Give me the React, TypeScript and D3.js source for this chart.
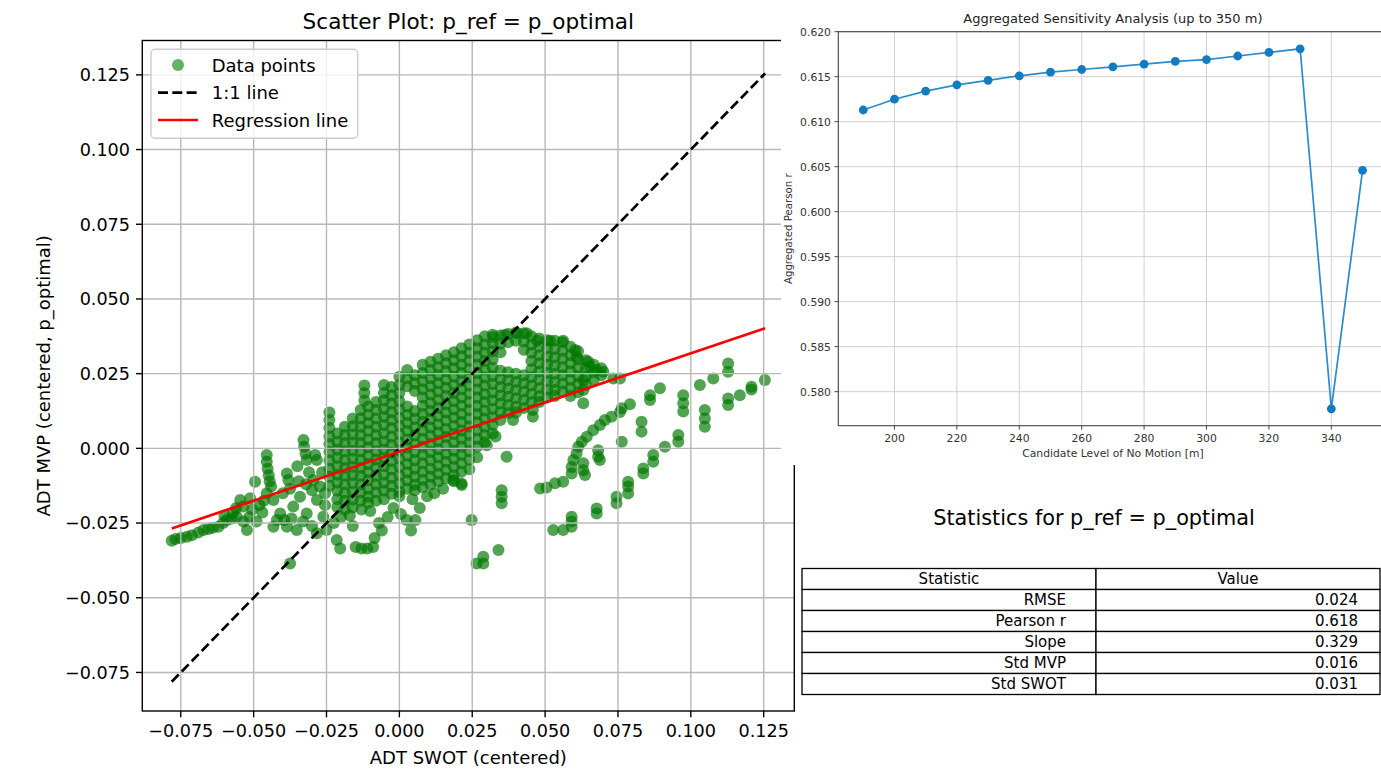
import React, { useEffect, useRef } from 'react';
import * as d3 from 'd3';

const W = 1381;
const H = 772;
const FONT = '"DejaVu Sans", Verdana, sans-serif';

// ---- right top panel: sensitivity analysis ----
const candidateLevels = [190, 200, 210, 220, 230, 240, 250, 260, 270, 280, 290, 300, 310, 320, 330, 340, 350];
const aggregatedPearson = [0.6113, 0.6125, 0.6134, 0.6141, 0.6146, 0.6151, 0.6155, 0.6158, 0.6161, 0.6164, 0.6167, 0.6169, 0.6173, 0.6177, 0.6181, 0.5781, 0.6046];
const levelTicks = [200, 220, 240, 260, 280, 300, 320, 340];
const pearsonTicks = [0.58, 0.585, 0.59, 0.595, 0.6, 0.605, 0.61, 0.615, 0.62];

// ---- statistics table ----
const statHeader = ['Statistic', 'Value'];
const statNames = ['RMSE', 'Pearson r', 'Slope', 'Std MVP', 'Std SWOT'];
const statValues = ['0.024', '0.618', '0.329', '0.016', '0.031'];

// ---- scatter ----
const swotTicks = [-0.075, -0.05, -0.025, 0, 0.025, 0.05, 0.075, 0.1, 0.125];
const mvpTicks = [-0.075, -0.05, -0.025, 0, 0.025, 0.05, 0.075, 0.1, 0.125];
const regSlope = 0.329;
const regIntercept = -0.0011;
const swotRange = [-0.0781, 0.1255];

// dense core of the cloud, read column by column: [swot, mvp values]
const denseColumns: [number, number[]][] = [
  [-0.0240, [0.0120, 0.0095, 0.0068, 0.0040, 0.0015, -0.0012, -0.0040, -0.0068, -0.0095, -0.0125]],
  [-0.0213, [0.0050, 0.0022, -0.0005, -0.0032, -0.0060, -0.0088, -0.0115, -0.0142, -0.0170, -0.0196]],
  [-0.0187, [0.0072, 0.0045, 0.0018, -0.0010, -0.0038, -0.0065, -0.0092, -0.0120, -0.0148, -0.0175, -0.0205]],
  [-0.0160, [0.0100, 0.0074, 0.0046, 0.0020, -0.0008, -0.0035, -0.0062, -0.0090, -0.0117, -0.0145, -0.0172, -0.0198]],
  [-0.0133, [0.0128, 0.0100, 0.0072, 0.0045, 0.0018, -0.0010, -0.0038, -0.0065, -0.0092, -0.0120, -0.0147, -0.0175]],
  [-0.0120, [0.0210, 0.0185, 0.0160]],
  [-0.0107, [0.0140, 0.0112, 0.0085, 0.0058, 0.0030, 0.0003, -0.0025, -0.0052, -0.0080, -0.0107, -0.0135, -0.0162, -0.0182]],
  [-0.0080, [0.0155, 0.0128, 0.0100, 0.0072, 0.0045, 0.0018, -0.0010, -0.0037, -0.0064, -0.0092, -0.0120, -0.0147, -0.0175]],
  [-0.0053, [0.0212, 0.0185, 0.0160, 0.0132, 0.0105, 0.0078, 0.0050, 0.0022, -0.0005, -0.0032, -0.0060, -0.0088, -0.0115, -0.0142, -0.0170]],
  [-0.0027, [0.0205, 0.0178, 0.0150, 0.0122, 0.0095, 0.0068, 0.0040, 0.0012, -0.0015, -0.0042, -0.0070, -0.0098, -0.0125, -0.0152]],
  [0.0000, [0.0240, 0.0212, 0.0185, 0.0158, 0.0130, 0.0102, 0.0075, 0.0048, 0.0020, -0.0008, -0.0035, -0.0062, -0.0090, -0.0117, -0.0145, -0.0160]],
  [0.0027, [0.0262, 0.0235, 0.0208, 0.0140, 0.0112, 0.0085, 0.0058, 0.0030, 0.0003, -0.0025, -0.0052, -0.0080, -0.0107, -0.0135]],
  [0.0053, [0.0245, 0.0218, 0.0192, 0.0125, 0.0098, 0.0070, 0.0043, 0.0015, -0.0012, -0.0040, -0.0068, -0.0095, -0.0122, -0.0140]],
  [0.0080, [0.0280, 0.0252, 0.0225, 0.0198, 0.0170, 0.0143, 0.0115, 0.0088, 0.0060, 0.0032, 0.0005, -0.0022, -0.0050, -0.0078, -0.0105, -0.0130]],
  [0.0107, [0.0290, 0.0262, 0.0235, 0.0208, 0.0180, 0.0152, 0.0125, 0.0098, 0.0070, 0.0042, 0.0015, -0.0012, -0.0040, -0.0068, -0.0095, -0.0122]],
  [0.0133, [0.0300, 0.0272, 0.0245, 0.0218, 0.0190, 0.0163, 0.0135, 0.0108, 0.0080, 0.0053, 0.0025, -0.0003, -0.0030, -0.0058, -0.0085, -0.0112]],
  [0.0160, [0.0312, 0.0285, 0.0258, 0.0230, 0.0203, 0.0175, 0.0148, 0.0120, 0.0093, 0.0065, 0.0038, 0.0010, -0.0018, -0.0045, -0.0072, -0.0100]],
  [0.0187, [0.0322, 0.0295, 0.0268, 0.0240, 0.0212, 0.0185, 0.0158, 0.0130, 0.0103, 0.0075, 0.0048, 0.0020, -0.0008, -0.0035, -0.0062, -0.0090, -0.0110]],
  [0.0213, [0.0335, 0.0308, 0.0280, 0.0252, 0.0225, 0.0198, 0.0170, 0.0143, 0.0115, 0.0088, 0.0060, 0.0033, 0.0005, -0.0022, -0.0050, -0.0078, -0.0118]],
  [0.0240, [0.0348, 0.0320, 0.0293, 0.0265, 0.0238, 0.0210, 0.0183, 0.0155, 0.0128, 0.0100, 0.0073, 0.0045, 0.0018, -0.0010, -0.0038, -0.0070]],
  [0.0267, [0.0362, 0.0335, 0.0307, 0.0280, 0.0252, 0.0225, 0.0197, 0.0170, 0.0142, 0.0115, 0.0087, 0.0060, 0.0032, 0.0005, -0.0030]],
  [0.0293, [0.0375, 0.0348, 0.0320, 0.0292, 0.0265, 0.0237, 0.0210, 0.0182, 0.0155, 0.0127, 0.0100, 0.0072, 0.0045, 0.0020]],
  [0.0320, [0.0380, 0.0352, 0.0325, 0.0297, 0.0270, 0.0242, 0.0215, 0.0187, 0.0160, 0.0132, 0.0105, 0.0078, 0.0050]],
  [0.0347, [0.0378, 0.0350, 0.0322, 0.0260, 0.0232, 0.0205, 0.0177, 0.0150, 0.0122, 0.0095]],
  [0.0373, [0.0383, 0.0355, 0.0255, 0.0228, 0.0200, 0.0173, 0.0145, 0.0118]],
  [0.0400, [0.0388, 0.0360, 0.0250, 0.0222, 0.0195, 0.0168, 0.0140, 0.0120]],
  [0.0427, [0.0385, 0.0358, 0.0330, 0.0245, 0.0218, 0.0190, 0.0163, 0.0135]],
  [0.0453, [0.0375, 0.0347, 0.0320, 0.0292, 0.0265, 0.0238, 0.0210, 0.0183, 0.0155]],
  [0.0480, [0.0368, 0.0340, 0.0312, 0.0285, 0.0257, 0.0230, 0.0202, 0.0175, 0.0155]],
  [0.0507, [0.0362, 0.0335, 0.0307, 0.0280, 0.0252, 0.0225, 0.0197, 0.0170]],
  [0.0533, [0.0360, 0.0332, 0.0305, 0.0277, 0.0250, 0.0222, 0.0195, 0.0175]],
  [0.0560, [0.0355, 0.0327, 0.0300, 0.0272, 0.0245, 0.0217, 0.0190]],
  [0.0587, [0.0340, 0.0312, 0.0285, 0.0257, 0.0230, 0.0202, 0.0175]],
  [0.0613, [0.0325, 0.0297, 0.0270, 0.0242, 0.0215, 0.0188]],
  [0.0640, [0.0295, 0.0268, 0.0240, 0.0212]],
  [0.0667, [0.0280, 0.0255, 0.0230]],
  [0.0693, [0.0268, 0.0245]],
];

// sparser points around the core: [swot, mvp]
const outerPoints: [number, number][] = [
  // lower-left tail
  [-0.0781, -0.0309], [-0.0768, -0.0303], [-0.0750, -0.0300], [-0.0729, -0.0296], [-0.0712, -0.0291],
  [-0.0690, -0.0282], [-0.0672, -0.0273], [-0.0655, -0.0270], [-0.0640, -0.0266], [-0.0621, -0.0262],
  [-0.0605, -0.0250], [-0.0600, -0.0225], [-0.0592, -0.0240], [-0.0575, -0.0235], [-0.0570, -0.0215],
  [-0.0560, -0.0200], [-0.0558, -0.0229], [-0.0546, -0.0173], [-0.0536, -0.0195], [-0.0535, -0.0245],
  [-0.0523, -0.0273], [-0.0515, -0.0230], [-0.0512, -0.0167], [-0.0505, -0.0205], [-0.0495, -0.0112],
  [-0.0490, -0.0245], [-0.0480, -0.0190], [-0.0470, -0.0215], [-0.0465, -0.0175], [-0.0455, -0.0150],
  [-0.0455, -0.0022], [-0.0455, -0.0045], [-0.0452, -0.0068], [-0.0448, -0.0090], [-0.0445, -0.0110],
  [-0.0440, -0.0128],
  // left middle
  [-0.0432, -0.0173], [-0.0409, -0.0218], [-0.0432, -0.0262], [-0.0420, -0.0240], [-0.0400, -0.0150],
  [-0.0395, -0.0240], [-0.0386, -0.0262], [-0.0386, -0.0084], [-0.0381, -0.0106], [-0.0375, -0.0135],
  [-0.0370, -0.0235], [-0.0364, -0.0195], [-0.0352, -0.0273], [-0.0350, -0.0060], [-0.0345, -0.0110],
  [-0.0341, -0.0162], [-0.0330, -0.0245], [-0.0320, -0.0120], [-0.0318, -0.0218], [-0.0310, -0.0080],
  [-0.0300, -0.0140], [-0.0300, -0.0260], [-0.0329, 0.0028], [-0.0327, 0.0005], [-0.0322, -0.0018],
  [-0.0318, -0.0039], [-0.0289, -0.0022], [-0.0283, -0.0039], [-0.0295, -0.0106], [-0.0272, -0.0128],
  [-0.0283, -0.0173], [-0.0265, -0.0080], [-0.0261, -0.0229], [-0.0283, -0.0284], [-0.0255, -0.0150],
  [-0.0255, -0.0190], [-0.0250, -0.0273], [-0.0375, -0.0385],
  // under the core
  [-0.0225, -0.0250], [-0.0215, -0.0307], [-0.0203, -0.0335], [-0.0200, -0.0230], [-0.0170, -0.0225],
  [-0.0160, -0.0260], [-0.0150, -0.0330], [-0.0130, -0.0335], [-0.0130, -0.0205], [-0.0110, -0.0335],
  [-0.0100, -0.0210], [-0.0090, -0.0330], [-0.0085, -0.0300], [-0.0070, -0.0250], [-0.0060, -0.0275],
  [-0.0040, -0.0230], [-0.0020, -0.0200], [0.0005, -0.0220], [0.0025, -0.0240], [0.0040, -0.0275],
  [0.0045, -0.0170], [0.0055, -0.0240], [0.0070, -0.0200], [0.0095, -0.0160], [0.0120, -0.0150],
  [0.0150, -0.0135], [0.0185, -0.0106], [0.0214, -0.0123],
  [0.0248, -0.0240], [0.0265, -0.0385], [0.0288, -0.0363], [0.0288, -0.0385], [0.0340, -0.0340],
  [0.0351, -0.0140], [0.0351, -0.0162], [0.0351, -0.0184], [0.0368, -0.0028],
  [0.0300, 0.0010], [0.0330, 0.0040], [0.0390, 0.0095], [0.0458, 0.0128], [0.0458, 0.0106],
  // upper arc and band to the right
  [0.0322, 0.0373], [0.0362, 0.0379], [0.0403, 0.0385], [0.0437, 0.0385], [0.0473, 0.0360],
  [0.0517, 0.0360], [0.0562, 0.0360], [0.0603, 0.0329], [0.0608, 0.0307], [0.0648, 0.0290],
  [0.0654, 0.0273], [0.0677, 0.0262], [0.0700, 0.0256], [0.0734, 0.0234], [0.0757, 0.0234],
  [0.0631, 0.0229], [0.0631, 0.0195], [0.0631, 0.0151],
  // first lower arc
  [0.0483, -0.0134], [0.0505, -0.0131], [0.0534, -0.0117], [0.0562, -0.0112], [0.0591, -0.0084],
  [0.0591, -0.0062], [0.0597, -0.0039], [0.0608, -0.0017], [0.0614, 0.0005], [0.0626, 0.0022],
  [0.0643, 0.0039], [0.0665, 0.0061], [0.0688, 0.0078], [0.0705, 0.0095], [0.0728, 0.0106],
  [0.0757, 0.0122], [0.0763, 0.0134], [0.0791, 0.0148], [0.0631, -0.0050], [0.0631, -0.0073],
  [0.0637, -0.0089], [0.0682, -0.0006], [0.0682, -0.0028], [0.0688, -0.0039], [0.0763, 0.0022],
  [0.0831, 0.0089], [0.0831, 0.0056],
  // far right
  [0.0860, 0.0178], [0.0860, 0.0162], [0.0894, 0.0201], [0.0974, 0.0178], [0.0974, 0.0151],
  [0.0974, 0.0123], [0.0957, 0.0045], [0.0957, 0.0022], [0.0911, 0.0005], [0.1031, 0.0212],
  [0.1077, 0.0234], [0.1128, 0.0284], [0.1128, 0.0256], [0.1048, 0.0128], [0.1048, 0.0100],
  [0.1048, 0.0072], [0.1128, 0.0167], [0.1128, 0.0145], [0.1168, 0.0178], [0.1208, 0.0206],
  [0.1208, 0.0197], [0.1254, 0.0229],
  // second lower arc
  [0.0528, -0.0273], [0.0562, -0.0273], [0.0591, -0.0262], [0.0591, -0.0245], [0.0591, -0.0229],
  [0.0677, -0.0201], [0.0677, -0.0218], [0.0745, -0.0162], [0.0745, -0.0184], [0.0785, -0.0112],
  [0.0785, -0.0128], [0.0785, -0.0151], [0.0837, -0.0067], [0.0837, -0.0084], [0.0871, -0.0022],
  [0.0871, -0.0045],
];

const App: React.FC = () => {
  const svgRef = useRef<SVGSVGElement>(null);

  useEffect(() => {
    if (!svgRef.current) return;
    const svg = d3.select(svgRef.current);
    svg.selectAll('*').remove();
    svg.append('rect').attr('width', W).attr('height', H).attr('fill', 'white');

    const text = (g: any, x: number, y: number, s: string, size: number, anchor = 'middle') =>
      g.append('text')
        .attr('x', x)
        .attr('y', y)
        .attr('font-family', FONT)
        .attr('font-size', size)
        .attr('text-anchor', anchor)
        .attr('fill', '#000')
        .text(s);

    // ================= scatter plot =================
    const x = d3.scaleLinear().domain([-0.0882, 0.1355]).range([142.3, 794.3]);
    const y = d3.scaleLinear().domain([-0.0879, 0.1365]).range([711, 40.5]);
    const fmt = d3.format('.3f');
    const left = svg.append('g');

    const points: [number, number][] = [
      ...denseColumns.flatMap(([sx, ys]) => ys.map(v => [sx, v] as [number, number])),
      ...outerPoints,
    ];
    left.append('g')
      .selectAll('circle')
      .data(points)
      .join('circle')
      .attr('cx', d => x(d[0]))
      .attr('cy', d => y(d[1]))
      .attr('r', 6)
      .attr('fill', '#007800')
      .attr('fill-opacity', 0.68);

    // grid (drawn over the markers, as matplotlib does)
    const grid = left.append('g').attr('stroke', '#b8b8b8').attr('stroke-width', 1.4);
    swotTicks.forEach(t => {
      grid.append('line').attr('x1', x(t)).attr('x2', x(t)).attr('y1', y.range()[0]).attr('y2', y.range()[1]);
    });
    mvpTicks.forEach(t => {
      grid.append('line').attr('x1', x.range()[0]).attr('x2', x.range()[1]).attr('y1', y(t)).attr('y2', y(t));
    });

    // 1:1 and regression lines
    left.append('path')
      .datum(swotRange)
      .attr('d', d3.line<number>().x(d => x(d)).y(d => y(d)))
      .attr('fill', 'none')
      .attr('stroke', '#000')
      .attr('stroke-width', 2.7)
      .attr('stroke-dasharray', '10,4.3');
    left.append('path')
      .datum(swotRange)
      .attr('d', d3.line<number>().x(d => x(d)).y(d => y(regSlope * d + regIntercept)))
      .attr('fill', 'none')
      .attr('stroke', 'red')
      .attr('stroke-width', 2.7);

    // frame
    left.append('rect')
      .attr('x', x.range()[0]).attr('y', y.range()[1])
      .attr('width', x.range()[1] - x.range()[0])
      .attr('height', y.range()[0] - y.range()[1])
      .attr('fill', 'none').attr('stroke', '#000').attr('stroke-width', 1.4);

    // ticks
    swotTicks.forEach(t => {
      left.append('line').attr('x1', x(t)).attr('x2', x(t)).attr('y1', 711).attr('y2', 717.3)
        .attr('stroke', '#000').attr('stroke-width', 1.4);
      text(left, x(t), 736.5, fmt(t), 17.6);
    });
    mvpTicks.forEach(t => {
      left.append('line').attr('x1', 142.3).attr('x2', 136).attr('y1', y(t)).attr('y2', y(t))
        .attr('stroke', '#000').attr('stroke-width', 1.4);
      text(left, 130, y(t) + 6.4, fmt(t), 17.6, 'end');
    });

    text(left, 468.3, 29, 'Scatter Plot: p_ref = p_optimal', 21.6);
    text(left, 468.3, 764, 'ADT SWOT (centered)', 18);
    text(left, 0, 0, 'ADT MVP (centered, p_optimal)', 18)
      .attr('transform', 'translate(50,375.8) rotate(-90)');

    // legend
    const lg = left.append('g');
    lg.append('rect')
      .attr('x', 151).attr('y', 49.3).attr('width', 206.7).attr('height', 89)
      .attr('rx', 4).attr('fill', 'white').attr('fill-opacity', 0.8)
      .attr('stroke', '#cccccc').attr('stroke-width', 1.4);
    lg.append('circle').attr('cx', 178).attr('cy', 65).attr('r', 6)
      .attr('fill', 'green').attr('fill-opacity', 0.6);
    lg.append('line').attr('x1', 158).attr('x2', 198).attr('y1', 92.7).attr('y2', 92.7)
      .attr('stroke', '#000').attr('stroke-width', 2.7).attr('stroke-dasharray', '10,4.3');
    lg.append('line').attr('x1', 158).attr('x2', 198).attr('y1', 120).attr('y2', 120)
      .attr('stroke', 'red').attr('stroke-width', 2.7);
    text(lg, 211.7, 71.5, 'Data points', 18, 'start');
    text(lg, 211.7, 99.2, '1:1 line', 18, 'start');
    text(lg, 211.7, 126.5, 'Regression line', 18, 'start');

    // ================= sensitivity panel =================
    svg.append('rect').attr('x', 781).attr('y', 0).attr('width', 600).attr('height', 465).attr('fill', 'white');
    const right = svg.append('g');
    const xr = d3.scaleLinear().domain([182, 358]).range([838.3, 1387.5]);
    const yr = d3.scaleLinear().domain([0.57622, 0.62]).range([425.7, 31.7]);

    const rg = right.append('g').attr('stroke', '#d0d0d0').attr('stroke-width', 1);
    levelTicks.forEach(t => {
      rg.append('line').attr('x1', xr(t)).attr('x2', xr(t)).attr('y1', 425.7).attr('y2', 31.7);
    });
    pearsonTicks.forEach(t => {
      rg.append('line').attr('x1', 838.3).attr('x2', 1387.5).attr('y1', yr(t)).attr('y2', yr(t));
    });

    const sens = candidateLevels.map((l, i) => ({ l, r: aggregatedPearson[i] }));
    right.append('path')
      .datum(sens)
      .attr('d', d3.line<{ l: number; r: number }>().x(d => xr(d.l)).y(d => yr(d.r)))
      .attr('fill', 'none').attr('stroke', '#2a8ccc').attr('stroke-width', 1.7);
    right.append('g').selectAll('circle').data(sens).join('circle')
      .attr('cx', d => xr(d.l)).attr('cy', d => yr(d.r)).attr('r', 4.4).attr('fill', '#137bc2');

    right.append('rect')
      .attr('x', 838.3).attr('y', 31.7).attr('width', 1387.5 - 838.3).attr('height', 425.7 - 31.7)
      .attr('fill', 'none').attr('stroke', '#444').attr('stroke-width', 1.1);

    const rfmt = d3.format('.3f');
    levelTicks.forEach(t => {
      right.append('line').attr('x1', xr(t)).attr('x2', xr(t)).attr('y1', 425.7).attr('y2', 429.5)
        .attr('stroke', '#444').attr('stroke-width', 1);
      text(right, xr(t), 441.5, String(t), 10.8).attr('fill', '#333');
    });
    pearsonTicks.forEach(t => {
      right.append('line').attr('x1', 838.3).attr('x2', 834.5).attr('y1', yr(t)).attr('y2', yr(t))
        .attr('stroke', '#444').attr('stroke-width', 1);
      text(right, 831, yr(t) + 3.9, rfmt(t), 10.8, 'end').attr('fill', '#333');
    });
    text(right, 1112.9, 23, 'Aggregated Sensitivity Analysis (up to 350 m)', 13).attr('fill', '#222');
    text(right, 1112.9, 457, 'Candidate Level of No Motion [m]', 10.8).attr('fill', '#333');
    text(right, 0, 0, 'Aggregated Pearson r', 10.2)
      .attr('fill', '#333')
      .attr('transform', 'translate(792,228.7) rotate(-90)');

    // ================= statistics table =================
    const tb = svg.append('g');
    text(tb, 1094, 524.5, 'Statistics for p_ref = p_optimal', 20.8);
    const tx0 = 802, tx1 = 1096, tx2 = 1380, ty0 = 568.5, rowH = 21;
    const rows = [statHeader, ...statNames.map((n, i) => [n, statValues[i]])];
    rows.forEach((row, i) => {
      const yy = ty0 + i * rowH;
      tb.append('rect').attr('x', tx0).attr('y', yy).attr('width', tx1 - tx0).attr('height', rowH)
        .attr('fill', 'white').attr('stroke', '#000').attr('stroke-width', 1.3);
      tb.append('rect').attr('x', tx1).attr('y', yy).attr('width', tx2 - tx1).attr('height', rowH)
        .attr('fill', 'white').attr('stroke', '#000').attr('stroke-width', 1.3);
      const by = yy + rowH / 2 + 5.4;
      if (i === 0) {
        text(tb, (tx0 + tx1) / 2, by, row[0], 15);
        text(tb, (tx1 + tx2) / 2, by, row[1], 15);
      } else {
        text(tb, tx1 - 30, by, row[0], 15, 'end');
        text(tb, tx2 - 22, by, row[1], 15, 'end');
      }
    });
  }, []);

  return (
    <div style={{ position: 'absolute', left: 0, top: 0 }}>
      <svg ref={svgRef} width={W} height={H} style={{ display: 'block' }} />
    </div>
  );
};

export default App;
